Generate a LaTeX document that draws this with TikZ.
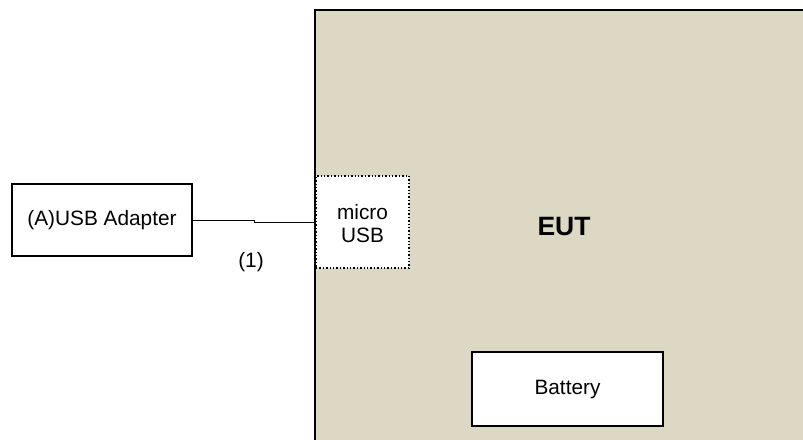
\documentclass[tikz,border=0pt]{standalone}
\usepackage{fontspec}
\setmainfont{Liberation Sans}
\definecolor{eutfill}{RGB}{221,216,195}
\begin{document}
\begin{tikzpicture}[x=1pt,y=-1pt,
  box/.style={draw=black,line width=1.6pt,fill=white,inner sep=0pt},
  txt/.style={font=\fontsize{20.8}{23}\selectfont,align=center,inner sep=0pt},
  wire/.style={draw=black,line width=1pt}]
\useasboundingbox (0,0) rectangle (803,439);
\clip (0,0) rectangle (803,439);
% EUT enclosure
\draw[line width=1.8pt,fill=eutfill] (315,10) rectangle (830,470);
\node[font=\fontsize{26.5}{30}\bfseries\selectfont,inner sep=0pt] (eut) at (564,227) {EUT};
% micro USB port
\node[draw=black,line width=1.4pt,dotted,fill=white,minimum width=93pt,minimum height=92pt,inner sep=0pt] (usb) at (362.5,222) {};
\node[txt] (usbtxt) at (362.5,224) {micro\\USB};
% Battery
\node[box,minimum width=191pt,minimum height=74pt] (bat) at (567.5,389) {};
\node[txt] (battxt) at (567.5,389) {Battery};
% Adapter
\node[box,minimum width=180pt,minimum height=72pt] (adp) at (102,220) {};
\node[txt] (adptxt) at (102,220) {(A)USB Adapter};
% cable
\coordinate (j1) at (254,220.7);
\coordinate (j2) at (254,222.5);
\draw[wire] (adp.east |- j1) -- (j1) -- (j2) -- (usb.west |- j2);
\node[txt] (lbl) at (251,262) {(1)};
\end{tikzpicture}
\end{document}
